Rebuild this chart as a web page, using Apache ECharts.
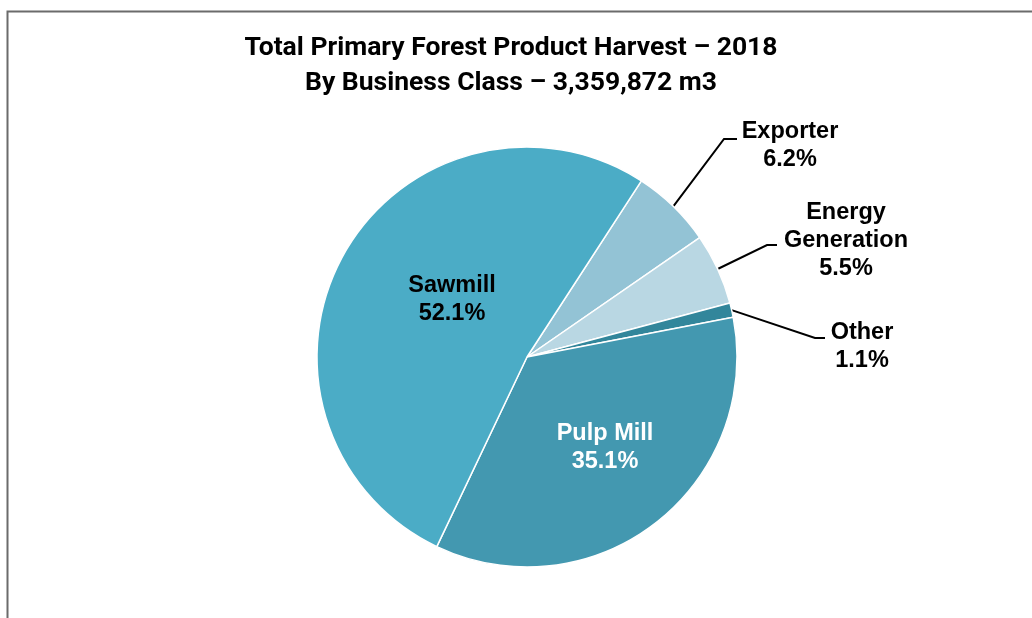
<!DOCTYPE html>
<html>
<head>
<meta charset="utf-8">
<script src="https://cdn.jsdelivr.net/npm/echarts@6/dist/echarts.min.js"></script>
<style>
html,body{margin:0;padding:0;background:#fff;}
#chart{width:1032px;height:618px;}
</style>
</head>
<body>
<div id="chart"></div>
<script>
// Data
const categories = ['Exporter', 'Energy\nGeneration', 'Other', 'Pulp Mill', 'Sawmill'];
const shares = [6.2, 5.5, 1.1, 35.1, 52.1];
const titleLines = ['Total Primary Forest Product Harvest \u2013 2018', 'By Business Class \u2013 3,359,872 m3'];

// Styles
const colors = ['#93C3D5', '#B9D7E3', '#32869B', '#4398B0', '#4BACC6'];
const labelColors = ['#000', '#000', '#000', '#fff', '#000'];
const labelPlacement = [
  { x: 790, y: 146, elbow: [724, 139], end: [737, 139] },
  { x: 846, y: 241, elbow: [767, 245], end: [777, 245] },
  { x: 862, y: 347, elbow: [815, 338], end: [825, 338] },
  { x: 605, y: 447.5 },
  { x: 452, y: 300 }
];
const outside = [true, true, true, false, false];

const chart = echarts.init(document.getElementById('chart'), null, { renderer: 'canvas' });

const data = categories.map((c, i) => ({
  name: c,
  value: shares[i],
  itemStyle: { color: colors[i] },
  label: { color: labelColors[i] },
  labelLine: { show: outside[i] }
}));

chart.setOption({
  backgroundColor: '#fff',
  animation: false,
  graphic: [
    { type: 'rect', left: 5, top: 9, shape: { width: 1100, height: 700 }, style: { fill: 'none', stroke: '#6b6b6b', lineWidth: 2 }, z: 0 },
    { type: 'text', x: 511, y: 31, style: { text: titleLines.join('\n'), font: 'bold 26.5px Roboto', fill: '#000', align: 'center', lineHeight: 35 } }
  ],
  series: [{
    type: 'pie',
    center: [527, 357],
    radius: 210,
    startAngle: 57,
    clockwise: true,
    data: data,
    itemStyle: { borderColor: '#fff', borderWidth: 1.5 },
    label: {
      show: true,
      formatter: p => p.name + '\n' + p.value.toFixed(1) + '%',
      fontFamily: 'Liberation Sans, Arial, sans-serif',
      fontWeight: 'bold',
      fontSize: 23.5,
      lineHeight: 28
    },
    labelLine: { lineStyle: { color: '#000', width: 2 }, length: 40, length2: 10 },
    labelLayout: function (p) {
      const cfg = labelPlacement[p.dataIndex];
      const out = { x: cfg.x, y: cfg.y, align: 'center', verticalAlign: 'middle' };
      if (cfg.elbow && p.labelLinePoints) {
        out.labelLinePoints = [p.labelLinePoints[0], cfg.elbow, cfg.end];
      }
      return out;
    }
  }]
});
</script>
</body>
</html>
